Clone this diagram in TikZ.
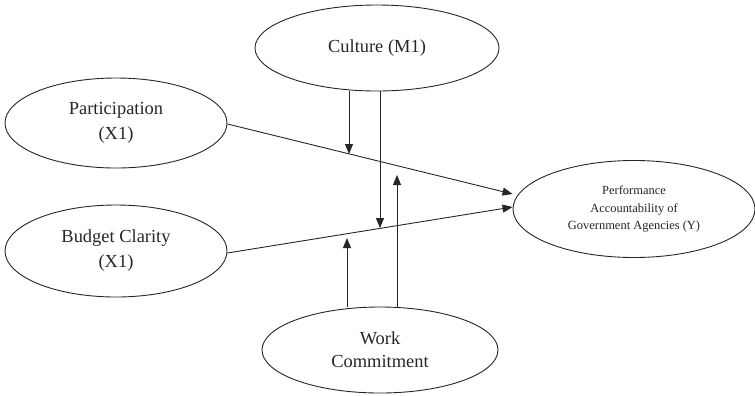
\documentclass[tikz,border=0pt]{standalone}
\usepackage{fontspec}
\setmainfont{Liberation Serif}
\usetikzlibrary{arrows.meta,shapes.geometric}
\tikzset{
  ell/.style={draw=black!85, line width=0.9bp, ellipse, inner sep=0pt, align=center,
    text=black!85, font=\fontsize{18.5}{25}\selectfont},
  arr/.style={draw=black!85, line width=0.9bp, -{Triangle[length=10bp,width=8bp]}}
}
\begin{document}
\begin{tikzpicture}[x=1bp,y=-1bp]
\useasboundingbox (0,0) rectangle (755,395);
\node[ell, minimum width=244bp, minimum height=86bp] (cult) at (377,48) {Culture (M1)};
\node[ell, minimum width=222bp, minimum height=90bp] (part) at (116,123) {Participation\\(X1)};
\node[ell, minimum width=222bp, minimum height=92bp] (budg) at (116,251) {Budget Clarity\\(X1)};
\node[ell, minimum width=242bp, minimum height=97bp, font=\fontsize{12.5}{18}\selectfont] (perf) at (634,209)
  {Performance\\Accountability of\\Government Agencies (Y)};
\node[ell, minimum width=236bp, minimum height=86bp, font=\fontsize{18.5}{23}\selectfont] (work) at (380,350) {Work\\Commitment};
% main paths
\draw[arr] ([yshift=-1bp]part.east) -- ([yshift=15bp]perf.west);
\draw[arr] ([yshift=-2bp]budg.east) -- ([yshift=2bp]perf.west);
% moderation targets
\coordinate (c1) at (349,154);
\coordinate (c2) at (380,228);
\coordinate (w1) at (347,238);
\coordinate (w2) at (397,175);
\draw[arr] (c1 |- cult.south) -- (c1);
\draw[arr] (c2 |- cult.south) -- (c2);
\draw[arr] (w1 |- work.north) -- (w1);
\draw[arr] (w2 |- work.north) -- (w2);
\end{tikzpicture}
\end{document}
